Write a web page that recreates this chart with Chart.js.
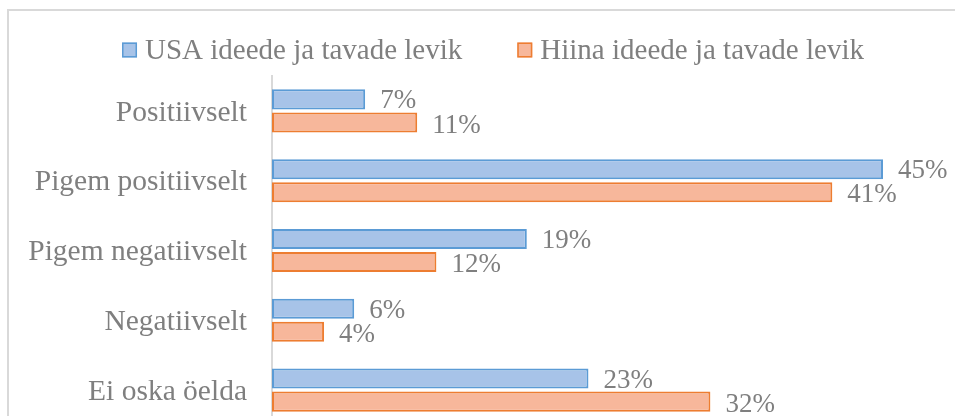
<!DOCTYPE html>
<html>
<head>
<meta charset="utf-8">
<script src="https://cdn.jsdelivr.net/npm/chart.js@4.4.1/dist/chart.umd.min.js"></script>
<style>
  html, body { margin: 0; padding: 0; background: #fff; overflow: hidden; }
  #frame { position: absolute; left: 7px; top: 9px; width: 968px; height: 430px; border: 2px solid #d9d9d9; }
  canvas { display: block; }
</style>
</head>
<body>
<div id="frame"><canvas id="chart" width="968" height="430"></canvas></div>
<script>
// Data (percent)
const categories = ['Positiivselt', 'Pigem positiivselt', 'Pigem negatiivselt', 'Negatiivselt', 'Ei oska öelda'];
const seriesNames = ['USA ideede ja tavade levik', 'Hiina ideede ja tavade levik'];
const usaValues = [6.8, 44.6, 18.6, 6.0, 23.1];
const chinaValues = [10.6, 40.9, 12.0, 3.8, 32.0];

const FONT = '"Times New Roman", "Liberation Serif", serif';
const TEXT_GREY = '#7f7f7f';

// Legend drawn by hand: Excel-style square + text, centred over the chart
const boxLegend = {
  id: 'boxLegend',
  afterDraw(chart) {
    const ctx = chart.ctx;
    const box = 15, gap = 8, itemGap = 55, cy = 39;
    ctx.save();
    ctx.font = '29px ' + FONT;
    ctx.textBaseline = 'middle';
    const items = chart.data.datasets.map(ds => ({ ds, w: ctx.measureText(ds.label).width }));
    const total = items.reduce((s, it) => s + box + gap + it.w, 0) + itemGap * (items.length - 1);
    let x = chart.width / 2 - total / 2;
    items.forEach(it => {
      ctx.fillStyle = it.ds.backgroundColor;
      ctx.strokeStyle = it.ds.borderColor;
      ctx.lineWidth = 1.5;
      ctx.fillRect(x, cy - box / 2, box, box);
      ctx.strokeRect(x + 0.75, cy - box / 2 + 0.75, box - 1.5, box - 1.5);
      ctx.fillStyle = TEXT_GREY;
      ctx.fillText(it.ds.label, x + box + gap, cy + 1);
      x += box + gap + it.w + itemGap;
    });
    ctx.restore();
  }
};

// Value labels to the right of each bar
const barLabels = {
  id: 'barLabels',
  afterDatasetsDraw(chart) {
    const ctx = chart.ctx;
    ctx.save();
    ctx.font = '27px ' + FONT;
    ctx.fillStyle = TEXT_GREY;
    ctx.textBaseline = 'middle';
    chart.data.datasets.forEach((ds, di) => {
      chart.getDatasetMeta(di).data.forEach((bar, i) => {
        ctx.fillText(Math.round(ds.data[i]) + '%', bar.x + 15, bar.y + 2 + di);
      });
    });
    ctx.restore();
  }
};

new Chart(document.getElementById('chart'), {
  type: 'bar',
  data: {
    labels: categories,
    datasets: [
      {
        label: seriesNames[0],
        data: usaValues,
        backgroundColor: '#a7c3e8',
        borderColor: '#5b9bd5',
        borderWidth: 2,
        borderSkipped: false
      },
      {
        label: seriesNames[1],
        data: chinaValues,
        backgroundColor: '#f7b79b',
        borderColor: '#ed7d31',
        borderWidth: 2,
        borderSkipped: false
      }
    ]
  },
  options: {
    indexAxis: 'y',
    responsive: false,
    animation: false,
    events: [],
    categoryPercentage: 0.66,
    barPercentage: 0.87,
    layout: { padding: { top: 65, right: 20, bottom: 16, left: 0 } },
    plugins: {
      legend: { display: false },
      tooltip: { enabled: false }
    },
    scales: {
      x: {
        display: false,
        min: 0,
        max: 50
      },
      y: {
        grid: { display: false, drawTicks: false },
        border: { display: true, color: '#d9d9d9', width: 2 },
        ticks: {
          color: TEXT_GREY,
          padding: 25,
          labelOffset: 2,
          font: { family: FONT, size: 29.5 }
        },
        afterFit(scale) {
          scale.width = 263;
          // labels sit inside the bands, no extra room needed above/below
          scale.paddingTop = 0;
          scale.paddingBottom = 0;
        }
      }
    }
  },
  plugins: [boxLegend, barLabels]
});
</script>
</body>
</html>
